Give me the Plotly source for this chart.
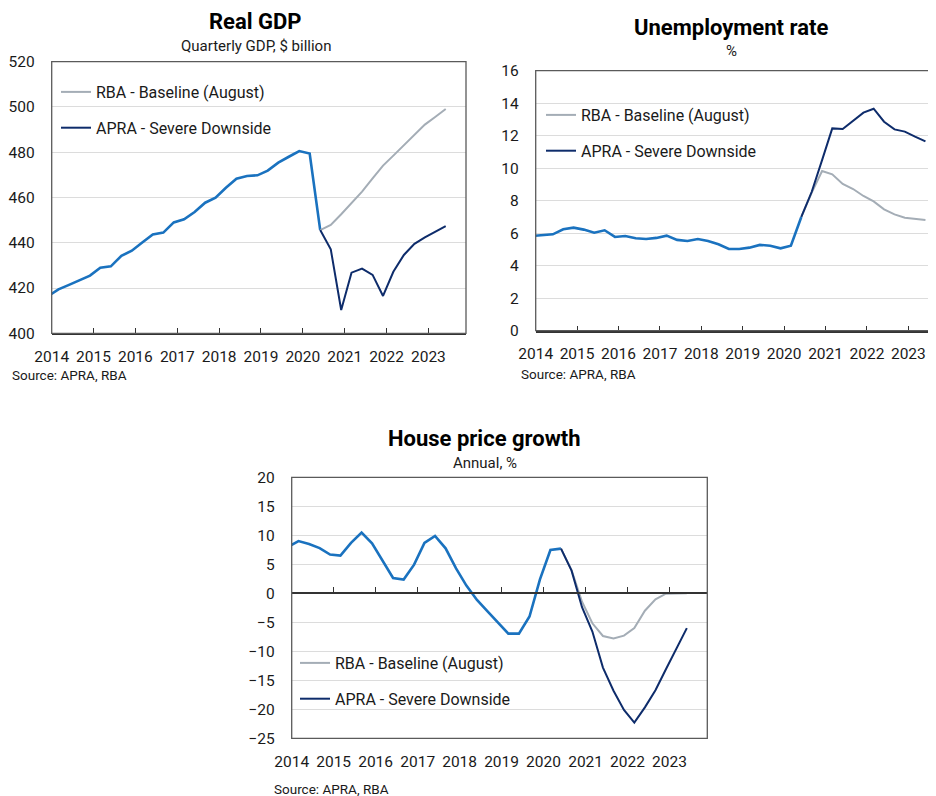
import plotly.graph_objects as go

# ---------------- data ----------------
quarters = ["2013-12-01",
            "2014-03-01", "2014-06-01", "2014-09-01", "2014-12-01",
            "2015-03-01", "2015-06-01", "2015-09-01", "2015-12-01",
            "2016-03-01", "2016-06-01", "2016-09-01", "2016-12-01",
            "2017-03-01", "2017-06-01", "2017-09-01", "2017-12-01",
            "2018-03-01", "2018-06-01", "2018-09-01", "2018-12-01",
            "2019-03-01", "2019-06-01", "2019-09-01", "2019-12-01",
            "2020-03-01", "2020-06-01", "2020-09-01", "2020-12-01",
            "2021-03-01", "2021-06-01", "2021-09-01", "2021-12-01",
            "2022-03-01", "2022-06-01", "2022-09-01", "2022-12-01",
            "2023-03-01", "2023-06-01"]
hist_q = quarters[:27]      # Dec 2013 - Jun 2020
proj_q = quarters[26:]      # Jun 2020 - Jun 2023

gdp_hist = [416.4, 419.4, 421.4, 423.6, 425.5, 429.0, 429.6, 434.2, 436.5,
            440.1, 443.7, 444.5, 449.0, 450.4, 453.6, 457.7, 459.9, 464.3,
            468.3, 469.5, 469.8, 471.9, 475.4, 478.0, 480.5, 479.4, 445.6]
gdp_rba = [445.6, 447.9, 452.6, 457.4, 462.6, 468.5, 474.1, 478.5, 483.2,
           487.6, 492.2, 495.6, 499.1]
gdp_apra = [445.6, 437.1, 410.3, 426.8, 428.6, 425.8, 416.5, 427.2, 434.6,
            439.5, 442.4, 444.9, 447.4]

une_hist = [5.83, 5.89, 5.93, 6.24, 6.34, 6.22, 6.03, 6.18, 5.77, 5.83, 5.69,
            5.64, 5.71, 5.85, 5.59, 5.52, 5.64, 5.52, 5.32, 5.03, 5.03, 5.11,
            5.28, 5.23, 5.07, 5.23, 7.0]
une_rba = [7.0, 8.5, 9.83, 9.62, 9.03, 8.72, 8.29, 7.96, 7.47, 7.16, 6.95,
           6.87, 6.81]
une_apra = [7.0, 8.55, 10.5, 12.45, 12.41, 12.92, 13.42, 13.66, 12.86, 12.39,
            12.25, 11.94, 11.65]

hou_hist = [8.0, 9.0, 8.5, 7.8, 6.67, 6.5, 8.7, 10.46, 8.6, 5.75, 2.64, 2.36,
            4.94, 8.7, 9.9, 7.76, 4.3, 1.32, -1.15, -3.1, -5.0, -6.95, -6.95,
            -4.0, 2.4, 7.47, 7.7]
hou_rba = [7.7, 4.0, -1.45, -5.17, -7.36, -7.8, -7.3, -6.0, -3.0, -1.03,
           -0.06, 0.0, 0.0]
hou_apra = [7.7, 3.9, -2.4, -6.6, -12.8, -16.8, -20.1, -22.3, -19.66, -16.7,
            -13.1, -9.54, -6.0]

rba_name = "RBA - Baseline (August)"
apra_name = "APRA - Severe Downside"

# ---------------- style ----------------
OFF = 8                      # page body margin of the browser
W, H = 936 - OFF, 796 - OFF  # figure size
FONT = "Roboto"
C_HIST = "#1a72bf"
C_RBA = "#a4adb6"
C_APRA = "#0e2c6b"
C_GRID = "#dcdcdc"
C_FRAME = "#5a5a5a"
C_AXIS = "#333333"
C_TXT = "#1a1a1a"


def fx(p):
    return (p - OFF) / W


def fy(p):
    return 1 - (p - OFF) / H


panels = [
    dict(x="x", y="y", leg="legend", xd=(51.7, 466.0), yd=(61.7, 333.3),
         yr=[400, 520], dt=20, xr=["2014-01-01", "2023-11-25"], xs=8,
         hist=gdp_hist, rba=gdp_rba, apra=gdp_apra),
    dict(x="x2", y="y2", leg="legend2", xd=(535.7, 936.0), yd=(70.7, 330.7),
         yr=[0, 16], dt=2, xr=["2014-01-01", "2023-09-02"], xs=8,
         hist=une_hist, rba=une_rba, apra=une_apra),
    dict(x="x3", y="y3", leg="legend3", xd=(291.7, 707.3), yd=(477.3, 738.3),
         yr=[-25, 20], dt=5, xr=["2014-01-01", "2023-11-26"], xs=9,
         hist=hou_hist, rba=hou_rba, apra=hou_apra),
]

fig = go.Figure()
for p in panels:
    fig.add_trace(go.Scatter(x=hist_q, y=p["hist"], mode="lines",
                             line=dict(color=C_HIST, width=2.6),
                             xaxis=p["x"], yaxis=p["y"], showlegend=False,
                             hoverinfo="skip"))
    fig.add_trace(go.Scatter(x=proj_q, y=p["rba"], mode="lines", name=rba_name,
                             line=dict(color=C_RBA, width=2),
                             xaxis=p["x"], yaxis=p["y"], legend=p["leg"],
                             legendgroup=p["leg"] + "a"))
    fig.add_trace(go.Scatter(x=proj_q, y=p["apra"], mode="lines", name=apra_name,
                             line=dict(color=C_APRA, width=2),
                             xaxis=p["x"], yaxis=p["y"], legend=p["leg"],
                             legendgroup=p["leg"] + "b"))

layout = dict(
    width=W, height=H, margin=dict(l=0, r=0, t=0, b=0, autoexpand=False),
    paper_bgcolor="white", plot_bgcolor="white",
    font=dict(family=FONT, size=16, color=C_TXT),
    showlegend=True,
)

shapes = []
for i, p in enumerate(panels):
    sfx = "" if i == 0 else str(i + 1)
    xdom = [fx(p["xd"][0]), min(1.0, fx(p["xd"][1]))]
    ydom = [fy(p["yd"][1]), fy(p["yd"][0])]
    is_house = i == 2
    layout["xaxis" + sfx] = dict(
        domain=xdom, anchor="y" + sfx, type="date", range=p["xr"],
        tick0="2014-01-01", dtick="M12", tickformat="%Y",
        showgrid=False, zeroline=False, automargin=False,
        showline=True, linecolor=C_FRAME if is_house else C_AXIS,
        linewidth=1.3 if is_house else 2,
        ticks="" if is_house else "inside", ticklen=5, tickwidth=1.2,
        tickcolor=C_AXIS, ticklabelstandoff=p["xs"],
        tickfont=dict(size=15.5, color=C_TXT), fixedrange=True,
    )
    layout["yaxis" + sfx] = dict(
        domain=ydom, anchor="x" + sfx, range=p["yr"], dtick=p["dt"],
        showgrid=True, gridcolor=C_GRID, gridwidth=1, zeroline=False,
        showline=False, ticks="", ticklabelstandoff=16, automargin=False,
        tickfont=dict(size=15.5, color=C_TXT), fixedrange=True,
    )
    shapes.append(dict(type="rect", xref="x" + sfx + " domain",
                       yref="y" + sfx + " domain",
                       x0=0, x1=1.2 if i == 1 else 1, y0=0, y1=1,
                       line=dict(color=C_FRAME, width=1.3), layer="above"))

# zero line with tick marks for house price chart
hp = panels[2]
yd0, yd1 = fy(hp["yd"][1]), fy(hp["yd"][0])
zero_pos = yd0 + (0 - hp["yr"][0]) / (hp["yr"][1] - hp["yr"][0]) * (yd1 - yd0)
layout["xaxis4"] = dict(
    overlaying="x3", anchor="free", position=zero_pos,
    domain=layout["xaxis3"]["domain"], automargin=False,
    type="date", range=hp["xr"], tick0="2014-01-01", dtick="M12",
    showticklabels=False, showgrid=False, zeroline=False,
    showline=True, linecolor=C_AXIS, linewidth=1.6,
    ticks="inside", ticklen=6, tickwidth=1.2, tickcolor=C_AXIS, fixedrange=True,
)
fig.add_trace(go.Scatter(x=[hp["xr"][0]], y=[0], xaxis="x4", yaxis="y3",
                         mode="lines", showlegend=False, hoverinfo="skip",
                         line=dict(color="rgba(0,0,0,0)")))

legend_common = dict(
    xanchor="left", yanchor="top", bgcolor="rgba(0,0,0,0)",
    font=dict(family=FONT, size=16, color=C_TXT),
    tracegroupgap=12, itemwidth=30, traceorder="grouped",
)
layout["legend"] = dict(legend_common, x=fx(56), y=fy(75))
layout["legend2"] = dict(legend_common, x=fx(541), y=fy(98))
layout["legend3"] = dict(legend_common, x=fx(295), y=fy(646))

annotations = []


def text(x, y, s, size, bold=False, anchor="center"):
    annotations.append(dict(
        xref="paper", yref="paper", x=fx(x), y=fy(y), xanchor=anchor,
        yanchor="middle", showarrow=False,
        text=("<b>%s</b>" % s) if bold else s,
        font=dict(family=FONT, size=size, color="#000000" if bold else C_TXT),
    ))


text(256, 22, "Real GDP", 22, bold=True)
text(256, 46, "Quarterly GDP, $ billion", 15)
text(731, 27, "Unemployment rate", 22, bold=True)
text(731, 51, "%", 15)
text(485, 438, "House price growth", 22, bold=True)
text(485, 463, "Annual, %", 15)
text(10, 374.5, "Source: APRA, RBA", 13.5, anchor="left")
text(519, 374, "Source: APRA, RBA", 13.5, anchor="left")
text(272, 789, "Source: APRA, RBA", 13.5, anchor="left")

layout["annotations"] = annotations
layout["shapes"] = shapes
fig.update_layout(**layout)

fig.write_html("out.html")
